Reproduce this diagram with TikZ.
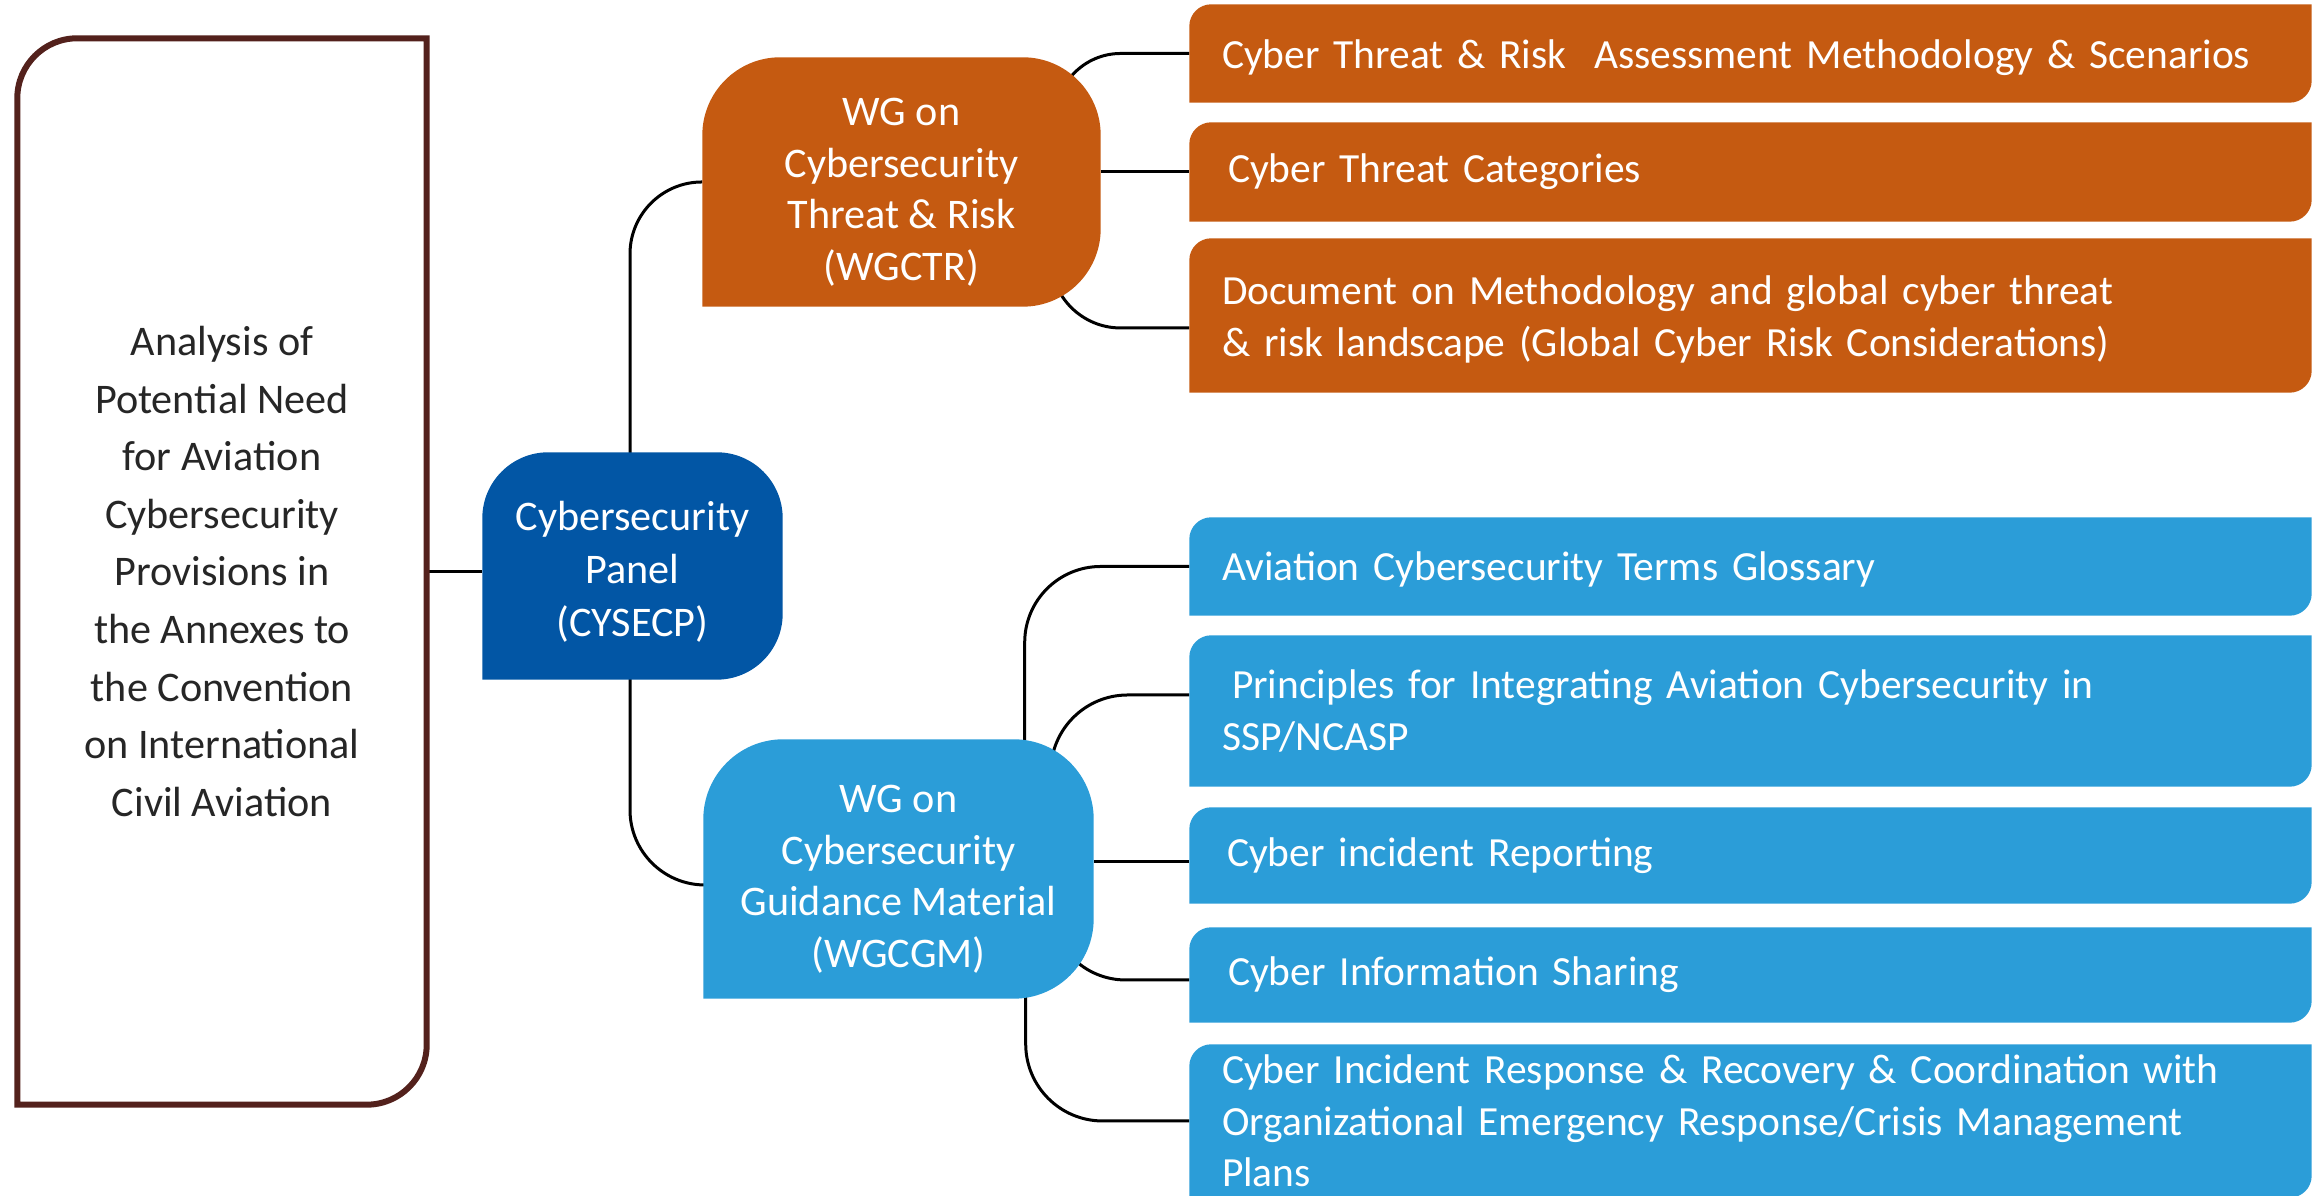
\documentclass[tikz,border=0pt]{standalone}
\usepackage{fontspec}
\setmainfont{Carlito}
\definecolor{panelbrown}{RGB}{83,33,28}
\definecolor{threatorange}{RGB}{197,90,17}
\definecolor{panelblue}{RGB}{2,86,165}
\definecolor{guideblue}{RGB}{43,157,216}
\definecolor{analysisgray}{RGB}{38,38,38}

\pgfdeclarelayer{links}
\pgfdeclarelayer{shapes}
\pgfsetlayers{links,shapes,main}

% three corners rounded, the lower left one square
\newcommand{\tabshape}[3]{%
	\path[#2] (#1.south west) -- ([yshift=-#3]#1.north west)
		arc[start angle=180, end angle=90, radius=#3] -- ([xshift=-#3]#1.north east)
		arc[start angle=90, end angle=0, radius=#3] -- ([yshift=#3]#1.south east)
		arc[start angle=0, end angle=-90, radius=#3] -- cycle;}
% upper left and lower right corners rounded
\newcommand{\leafshape}[3]{%
	\path[#2] (#1.south west) -- ([yshift=-#3]#1.north west)
		arc[start angle=180, end angle=90, radius=#3] -- (#1.north east)
		-- ([yshift=#3]#1.south east)
		arc[start angle=0, end angle=-90, radius=#3] -- cycle;}
% taller first line, pushes the group text a little down
\newcommand{\lowertext}[1]{\rule{0pt}{#1}}

\begin{document}
\begin{tikzpicture}[
	group/.style={align=center, text=white, inner sep=0pt, font=\fontsize{12pt}{14.7pt}\selectfont},
	item/.style={align=left, text=white, text width=10.57cm, inner xsep=0.32cm, inner ysep=0pt,
		font=\fontsize{11.8pt}{14.6pt}\selectfont},
	conn/.style={line width=0.3mm}
]
	\useasboundingbox (0, 0) rectangle (23.2, 11.96);

	\node[align=center, text=analysisgray, inner sep=0pt, minimum width=4.08cm, minimum height=10.65cm,
		font=\fontsize{12pt}{16.4pt}\selectfont] (analysis) at (2.22, 6.245)
		{Analysis of\\Potential Need\\for Aviation\\Cybersecurity\\Provisions in\\the Annexes to\\the Convention\\on International\\Civil Aviation};
	\node[group, minimum width=2.99cm, minimum height=2.26cm, font=\fontsize{12pt}{15.1pt}\selectfont] (cysecp) at (6.325, 6.30)
		{\lowertext{11.8pt}Cybersecurity\\Panel\\(CYSECP)};
	\node[group, minimum width=3.97cm, minimum height=2.48cm] (wgctr) at (9.015, 10.14)
		{\lowertext{13.6pt}WG on\\Cybersecurity\\Threat \& Risk\\(WGCTR)};
	\node[group, minimum width=3.89cm, minimum height=2.58cm] (wgcgm) at (8.985, 3.27)
		{\lowertext{13.6pt}WG on\\Cybersecurity\\Guidance Material\\(WGCGM)};

	% threat & risk outputs
	\node[item, minimum height=0.97cm] (r1) at (17.505, 11.425) {\lowertext{10.5pt}Cyber Threat \& Risk~ Assessment Methodology \& Scenarios};
	\node[item, minimum height=0.98cm] (r2) at (17.505, 10.24) {\hspace*{0.06cm}Cyber Threat Categories};
	\node[item, minimum height=1.53cm] (r3) at (17.505, 8.805)
		{\lowertext{10.5pt}Document on Methodology and global cyber threat\\\& risk landscape (Global Cyber Risk Considerations)};

	% guidance material outputs
	\node[item, minimum height=0.97cm] (b1) at (17.505, 6.295) {\lowertext{10pt}Aviation Cybersecurity Terms Glossary};
	\node[item, minimum height=1.50cm] (b2) at (17.505, 4.85)
		{\hspace*{0.1cm}Principles for Integrating Aviation Cybersecurity in\\SSP/NCASP};
	\node[item, minimum height=0.95cm] (b3) at (17.505, 3.405) {\hspace*{0.05cm}Cyber incident Reporting};
	\node[item, minimum height=0.94cm] (b4) at (17.505, 2.21) {\hspace*{0.06cm}Cyber Information Sharing};
	\node[item, minimum height=1.52cm] (b5) at (17.505, 0.75)
		{Cyber Incident Response \& Recovery \& Coordination with\\Organizational Emergency Response/Crisis Management\\Plans};

	\begin{pgfonlayer}{shapes}
		\clip (0, 0) rectangle (23.2, 11.96);
		\leafshape{analysis}{draw=panelbrown, line width=0.6mm, fill=white}{0.6cm}
		\tabshape{cysecp}{fill=panelblue}{0.66cm}
		\tabshape{wgctr}{fill=threatorange}{0.78cm}
		\tabshape{wgcgm}{fill=guideblue}{0.8cm}
		\foreach \n in {r1, r2, r3} {\leafshape{\n}{fill=threatorange}{0.22cm}}
		\foreach \n in {b1, b2, b3, b4, b5} {\leafshape{\n}{fill=guideblue}{0.22cm}}
	\end{pgfonlayer}

	\begin{pgfonlayer}{links}
		\draw[conn] (analysis.east) -- (analysis.east -| cysecp.west);
		\draw[conn, rounded corners=0.72cm] ([xshift=-0.025cm]cysecp.center) |- (wgctr.west);
		\draw[conn, rounded corners=0.75cm] ([xshift=-0.025cm]cysecp.center) |- ([yshift=-0.16cm]wgcgm.west);

		\draw[conn, rounded corners=0.65cm] ([xshift=-0.45cm]wgctr.east) |- (r1.west);
		\draw[conn] (wgctr.east |- r2.west) -- (r2.west);
		\draw[conn, rounded corners=0.7cm] ([xshift=-0.5cm]wgctr.east) |- ([yshift=-0.125cm]r3.west);

		\draw[conn, rounded corners=0.76cm] ([xshift=-0.69cm]wgcgm.east) |- (b1.west);
		\draw[conn, rounded corners=0.77cm] ([xshift=-0.43cm]wgcgm.east) |- ([yshift=0.16cm]b2.west);
		\draw[conn] ([yshift=-0.06cm]b3.west) -- ([yshift=-0.06cm]b3.west -| wgcgm.east);
		\draw[conn, rounded corners=0.75cm] ([xshift=-0.43cm]wgcgm.east) |- ([yshift=-0.05cm]b4.west);
		\draw[conn, rounded corners=0.77cm] ([xshift=-0.68cm]wgcgm.east) |- (b5.west);
	\end{pgfonlayer}
\end{tikzpicture}
\end{document}
